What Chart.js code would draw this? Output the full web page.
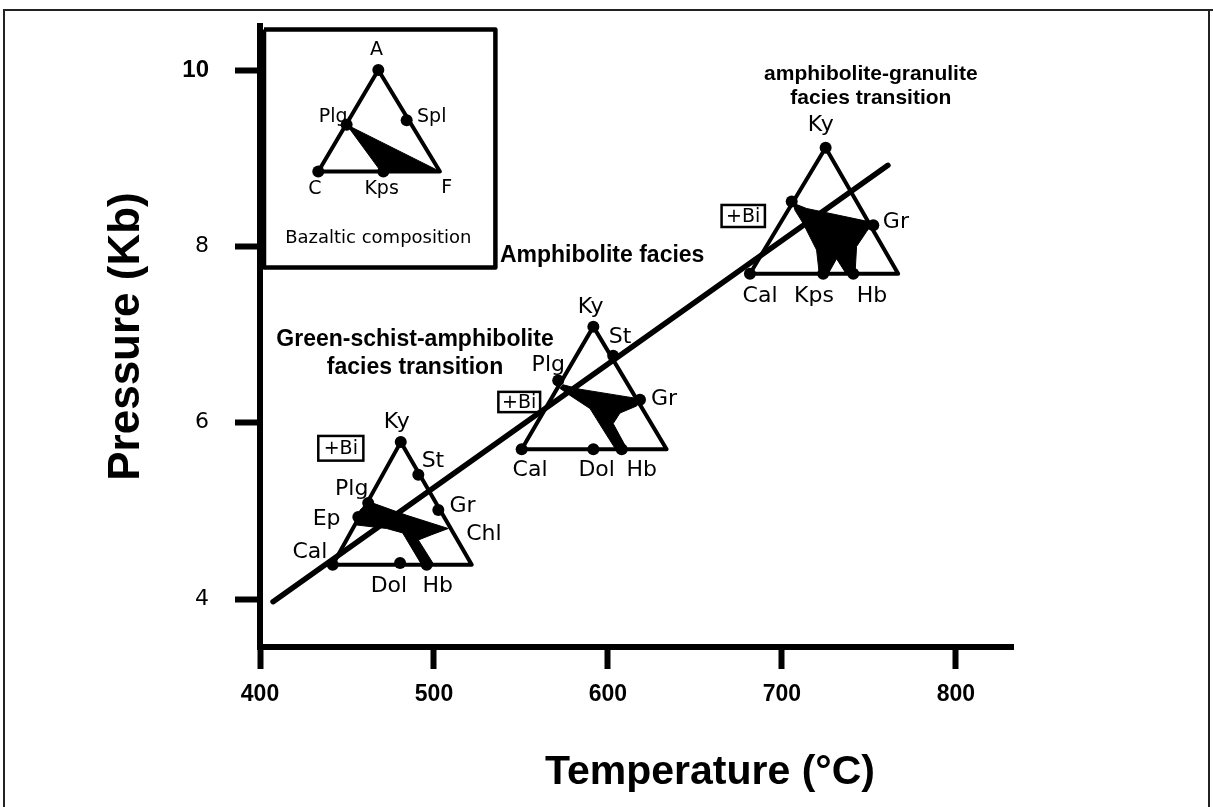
<!DOCTYPE html>
<html><head><meta charset="utf-8">
<script src="https://cdn.jsdelivr.net/npm/chart.js@4.4.1/dist/chart.umd.min.js"></script>
<style>html,body{margin:0;padding:0;background:#fff;}canvas{display:block;}</style>
</head><body>
<canvas id="c" width="1213" height="807"></canvas>
<script>
// ---- axes ----
const xTicks = [400, 500, 600, 700, 800];
const yTicks = [4, 6, 8, 10];
const xRange = [400, 832.8];
const yRange = [3.456, 10.5];

// ---- geotherm line ----
const lineT = [407.5, 760.9];
const lineP = [3.97, 8.92];

// ---- greenschist-amphibolite triangle ----
const triLowT = [480.9, 441.8, 521.7, 480.9];
const triLowP = [5.78, 4.39, 4.39, 5.78];
const dotLowT = [480.9, 491.0, 502.5, 462.2, 456.5, 441.8, 480.5, 495.8];
const dotLowP = [5.78, 5.41, 5.01, 5.09, 4.93, 4.39, 4.41, 4.39];
const fillLowT = [457.5, 463.2, 484.3, 508.2, 498.7, 491.0, 499.3, 493.5, 482.0, 472.8, 455.6, 457.5];
const fillLowP = [5.01, 5.10, 4.95, 4.80, 4.73, 4.67, 4.41, 4.37, 4.75, 4.80, 4.84, 5.01];
const labLow = ['Ky', 'St', 'Gr', 'Chl', 'Plg', 'Ep', 'Cal', 'Dol', 'Hb'];
const labLowT = [478.6, 499.4, 516.4, 528.7, 452.7, 438.3, 428.7, 474.1, 502.2];
const labLowP = [6.01, 5.56, 5.05, 4.74, 5.24, 4.91, 4.53, 4.14, 4.14];

// ---- amphibolite triangle ----
const triMidT = [591.6, 550.4, 633.7, 591.6];
const triMidP = [7.09, 5.70, 5.70, 7.09];
const dotMidT = [591.6, 603.0, 571.4, 618.4, 550.4, 591.6, 607.9];
const dotMidP = [7.09, 6.76, 6.48, 6.26, 5.70, 5.70, 5.70];
const fillMidT = [574.3, 583.9, 618.4, 616.5, 606.9, 603.0, 610.7, 605.0, 597.3, 589.7, 578.2, 572.4, 574.3];
const fillMidP = [6.43, 6.38, 6.27, 6.19, 6.11, 5.99, 5.71, 5.68, 5.92, 6.16, 6.31, 6.39, 6.43];
const labMid = ['Ky', 'St', 'Plg', 'Gr', 'Cal', 'Dol', 'Hb'];
const labMidT = [590.0, 606.9, 565.7, 632.2, 555.2, 593.5, 619.4];
const labMidP = [7.31, 6.97, 6.65, 6.27, 5.46, 5.46, 5.46];

// ---- amphibolite-granulite triangle ----
const triHighT = [725.1, 681.6, 766.8, 725.1];
const triHighP = [9.12, 7.69, 7.69, 9.12];
const dotHighT = [725.1, 705.6, 752.5, 681.6, 723.7, 741.0];
const dotHighP = [9.12, 8.51, 8.24, 7.69, 7.69, 7.69];
const fillHighT = [706.5, 714.2, 752.5, 748.7, 742.9, 742.0, 737.2, 731.4, 726.6, 721.4, 719.9, 712.2, 707.5, 706.5];
const fillHighP = [8.49, 8.43, 8.27, 8.17, 8.00, 7.69, 7.68, 7.86, 7.69, 7.70, 7.96, 8.26, 8.41, 8.49];
const labHigh = ['Ky', 'Gr', 'Cal', 'Kps', 'Hb'];
const labHighT = [722.3, 765.5, 687.4, 718.4, 751.7];
const labHighP = [9.37, 8.27, 7.43, 7.43, 7.43];

// ---- "+Bi" boxes: [Tmin, Tmax], [Pmin, Pmax] ----
const biBoxT = [[433.5, 459.4], [537.0, 561.0], [665.3, 690.2]];
const biBoxP = [[5.57, 5.85], [6.12, 6.35], [8.22, 8.47]];

// ---- inset (bazaltic composition) ----
const insetBoxT = [402.3, 535.3, 535.3, 402.3, 402.3];
const insetBoxP = [10.46, 10.46, 7.76, 7.76, 10.46];
const insetTriT = [468.0, 433.5, 503.4, 468.0];
const insetTriP = [10.0, 8.85, 8.85, 10.0];
const insetDotT = [468.0, 449.8, 484.3, 433.5, 470.9];
const insetDotP = [10.0, 9.38, 9.43, 8.85, 8.85];
const insetFillT = [449.8, 503.4, 469.5, 449.8];
const insetFillP = [9.38, 8.85, 8.85, 9.38];
const insetLab = ['A', 'Plg', 'Spl', 'C', 'Kps', 'F'];
const insetLabT = [467.0, 442.1, 498.7, 431.6, 469.9, 507.3];
const insetLabP = [10.23, 9.47, 9.47, 8.65, 8.65, 8.66];
const insetCaption = 'Bazaltic composition';
const insetCaptionT = 468.0, insetCaptionP = 8.09;

// ---- facies annotations ----
const noteText = [['amphibolite-granulite', 'facies transition'], ['Amphibolite facies'], ['Green-schist-amphibolite', 'facies transition']];
const noteT = [751.1, 537.9, 489.1];
const noteP = [9.95, 7.89, 6.94];

const pts = (T, P) => T.map((t, i) => ({x: t, y: P[i]}));

function lineDs(T, P, w, order) {
  return {data: pts(T, P), showLine: true, borderColor: '#000', borderWidth: w, pointRadius: 0,
          fill: false, order: order, clip: false, borderJoinStyle: 'round', borderCapStyle: 'round'};
}
function fillDs(T, P, color, bw, order) {
  return {data: pts(T, P), showLine: true, borderColor: '#000', backgroundColor: color, borderWidth: bw,
          pointRadius: 0, fill: 'shape', order: order, clip: false, borderJoinStyle: 'round'};
}
function dotDs(T, P, r) {
  return {data: pts(T, P), showLine: false, pointRadius: r, pointBackgroundColor: '#000',
          pointBorderColor: '#000', pointBorderWidth: 0, order: 0, clip: false};
}

const datasets = [
  fillDs(insetBoxT, insetBoxP, '#fff', 4.5, 9),
  lineDs(lineT, lineP, 5.5, 4),
  fillDs(fillLowT, fillLowP, '#000', 1, 3),
  fillDs(fillMidT, fillMidP, '#000', 1, 3),
  fillDs(fillHighT, fillHighP, '#000', 1, 3),
  fillDs(insetFillT, insetFillP, '#000', 1, 3),
  lineDs(triLowT, triLowP, 4, 2),
  lineDs(triMidT, triMidP, 4, 2),
  lineDs(triHighT, triHighP, 4, 2),
  lineDs(insetTriT, insetTriP, 4, 2),
  dotDs(dotLowT, dotLowP, 6),
  dotDs(dotMidT, dotMidP, 6),
  dotDs(dotHighT, dotHighP, 6),
  dotDs(insetDotT, insetDotP, 6)
];

const annot = {
  id: 'annot',
  beforeDraw(chart) {
    const ctx = chart.ctx;
    ctx.save();
    ctx.fillStyle = '#fff';
    ctx.fillRect(0, 0, chart.width, chart.height);
    ctx.strokeStyle = '#222';
    ctx.lineWidth = 2;
    ctx.beginPath();
    ctx.moveTo(4, 807); ctx.lineTo(4, 10); ctx.lineTo(1213, 10);
    ctx.moveTo(1209, 10); ctx.lineTo(1209, 807);
    ctx.stroke();
    ctx.restore();
  },
  afterDatasetsDraw(chart) {
    const ctx = chart.ctx;
    const X = v => chart.scales.x.getPixelForValue(v);
    const Y = v => chart.scales.y.getPixelForValue(v);
    ctx.save();
    ctx.fillStyle = '#000';
    ctx.textAlign = 'center';
    ctx.textBaseline = 'middle';
    const group = (labs, T, P, font) => {
      ctx.font = font;
      labs.forEach((s, i) => ctx.fillText(s, X(T[i]), Y(P[i])));
    };
    group(labLow, labLowT, labLowP, '22px "DejaVu Sans"');
    group(labMid, labMidT, labMidP, '22px "DejaVu Sans"');
    group(labHigh, labHighT, labHighP, '22px "DejaVu Sans"');
    group(insetLab, insetLabT, insetLabP, '19px "DejaVu Sans"');
    ctx.font = '18px "DejaVu Sans"';
    ctx.fillText(insetCaption, X(insetCaptionT), Y(insetCaptionP));

    // +Bi boxes
    biBoxT.forEach((bt, i) => {
      const x0 = X(bt[0]), x1 = X(bt[1]), y0 = Y(biBoxP[i][1]), y1 = Y(biBoxP[i][0]);
      ctx.lineWidth = 2.5;
      ctx.strokeStyle = '#000';
      ctx.strokeRect(x0, y0, x1 - x0, y1 - y0);
      ctx.font = '19px "DejaVu Sans"';
      ctx.fillText('+Bi', (x0 + x1) / 2, (y0 + y1) / 2 + 1);
    });

    // facies notes
    const noteFont = [21, 23, 23];
    const noteGap = [24, 28, 28];
    noteText.forEach((lines, i) => {
      ctx.font = 'bold ' + noteFont[i] + 'px "Liberation Sans", Arial, sans-serif';
      ctx.textAlign = i === 1 ? 'left' : 'center';
      lines.forEach((s, k) => ctx.fillText(s, X(noteT[i]), Y(noteP[i]) + k * noteGap[i]));
    });

    // x axis title
    ctx.textAlign = 'center';
    ctx.font = 'bold 41px "Liberation Sans", Arial, sans-serif';
    ctx.fillText('Temperature (\u00B0C)', 710, 773);
    ctx.restore();
  }
};

new Chart(document.getElementById('c'), {
  type: 'scatter',
  data: {datasets},
  options: {
    responsive: false,
    animation: false,
    devicePixelRatio: 1,
    layout: {padding: {left: 0, top: 26, right: 200, bottom: 0}},
    plugins: {legend: {display: false}, tooltip: {enabled: false}},
    scales: {
      x: {
        type: 'linear', min: xRange[0], max: xRange[1],
        afterFit(s) { s.height = 160; s.paddingLeft = 0; s.paddingRight = 0; },
        afterBuildTicks(s) { s.ticks = xTicks.map(v => ({value: v})); },
        border: {display: true, width: 6, color: '#000'},
        grid: {display: true, drawOnChartArea: false, drawTicks: true, tickLength: 22, tickWidth: 6, tickColor: '#000'},
        ticks: {padding: 12, color: '#000', maxRotation: 0,
                font: {family: '"Liberation Sans", Arial', weight: 'bold', size: 23}}
      },
      y: {
        type: 'linear', min: yRange[0], max: yRange[1],
        afterFit(s) { s.width = 260; s.paddingTop = 0; s.paddingBottom = 0; },
        afterBuildTicks(s) { s.ticks = yTicks.map(v => ({value: v})); },
        border: {display: true, width: 6, color: '#000'},
        grid: {display: true, drawOnChartArea: false, drawTicks: true, tickLength: 25, tickWidth: 6, tickColor: '#000'},
        ticks: {padding: 26, color: '#000',
                font: (c) => (c.tick && c.tick.value === 10)
                  ? {family: '"Liberation Sans", Arial', weight: 'bold', size: 24}
                  : {family: '"DejaVu Sans"', weight: 'normal', size: 22}},
        title: {display: true, text: 'Pressure (Kb)', color: '#000', padding: {top: 100, bottom: 0},
                font: {family: '"Liberation Sans", Arial', weight: 'bold', size: 44}}
      }
    }
  },
  plugins: [annot]
});
</script>
</body></html>
